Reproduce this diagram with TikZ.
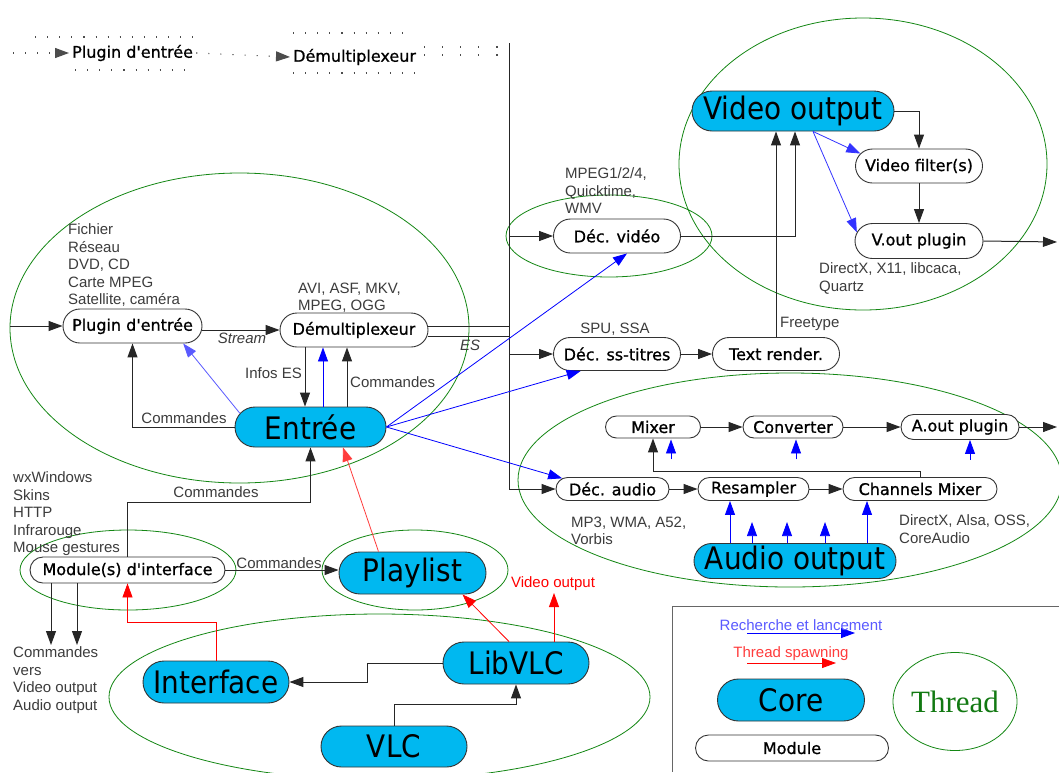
\documentclass[tikz,border=0pt]{standalone}
\usepackage{fontspec}
\setmainfont{Liberation Sans}
\newfontfamily\modfont{DejaVu Sans}[FakeBold=0.9]
\newfontfamily\corefont{DejaVu Sans Condensed}
\newfontfamily\thrfont{Liberation Serif}
\usetikzlibrary{shapes.misc,shapes.geometric,arrows.meta}
\definecolor{coreblue}{RGB}{0,184,240}
\definecolor{thrgreen}{RGB}{20,135,20}
\definecolor{anngray}{RGB}{60,60,60}
\definecolor{srchblue}{RGB}{0,0,255}
\definecolor{lblue}{RGB}{90,90,255}
\definecolor{spred}{RGB}{255,0,0}
\definecolor{lred}{RGB}{255,60,60}
\tikzset{
  mod/.style={draw=black!80, line width=0.9pt, rounded rectangle, inner sep=0pt, fill=white,
    font=\modfont\fontsize{16}{16}\selectfont, text=black},
  corebox/.style={draw=black!80, line width=0.9pt, rounded rectangle, inner sep=0pt, fill=coreblue,
    font=\corefont\fontsize{31}{31}\selectfont, text=black},
  ann/.style={font=\fontsize{15}{17.5}\selectfont, text=anngray, align=left, inner sep=0pt},
  annit/.style={font=\fontsize{15}{17.5}\selectfont\itshape, text=anngray, inner sep=0pt},
  thr/.style={draw=thrgreen, line width=0.8pt},
  tip/.style={-{Triangle[length=14pt,width=10pt]}},
  arr/.style={tip, line width=1pt, draw=black!85},
  link/.style={line width=1pt, draw=black!85},
  barr/.style={tip, line width=0.8pt, draw=srchblue},
  rarr/.style={tip, line width=0.8pt, draw=spred},
  dotl/.style={draw=black!70, line width=1.1pt, dash pattern=on 1.1pt off 11pt},
}
\begin{document}
\begin{tikzpicture}[x=1pt,y=-1pt]
\fill[white] (0,0) rectangle (1059,772);
\useasboundingbox (0,0) rectangle (1059,772);

% thread ellipses
\draw[thr] (239.5,328) ellipse [x radius=229.5, y radius=155];
\draw[thr] (863,164) ellipse [x radius=184, y radius=146];
\draw[thr] (609,236) ellipse [x radius=103, y radius=41];
\draw[thr] (790,480) ellipse [x radius=272, y radius=107];
\draw[thr] (128,570) ellipse [x radius=108, y radius=40];
\draw[thr] (415,570) ellipse [x radius=93, y radius=40];
\draw[thr] (379.5,697) ellipse [x radius=270.5, y radius=83];

% top dotted sketch
\node[font=\modfont\fontsize{16}{16}\selectfont, anchor=west, inner sep=0pt] (tplug) at (72,53) {Plugin d'entrée};
\node[font=\modfont\fontsize{16}{16}\selectfont, anchor=west, inner sep=0pt] (tdemux) at (293,57) {Démultiplexeur};
\coordinate (tin) at (13,53);
\draw[dotl, tip] (tin) -- ([xshift=-3pt]tplug.west);
\draw[dotl, tip] ([xshift=3pt]tplug.east) -- ([xshift=-3pt]tdemux.west);
\draw[dotl] (35,37) -- (193,37);
\draw[dotl] (75,70) -- (190,70);
\draw[dotl] (293,33) -- (413,33);
\draw[dotl] (293,73) -- (415,73);
\draw[dotl, dash pattern=on 1.1pt off 17pt] (424,47) -- (500,47);
\draw[dotl, dash pattern=on 1.1pt off 17pt] (424,55) -- (500,55);

% modules and cores
\node[mod, minimum width=139pt, minimum height=34pt] (plug) at (132.5,326) {Plugin d'entrée};
\node[mod, minimum width=148pt, minimum height=34pt] (demux) at (354,330) {Démultiplexeur};
\node[corebox, minimum width=151pt, minimum height=40pt] (entree) at (310.5,427) {Entrée};

\node[corebox, minimum width=202pt, minimum height=40pt] (vout) at (793,111) {Video output};
\node[mod, minimum width=127pt, minimum height=34pt] (vfilt) at (919,166) {Video filter(s)};
\node[mod, minimum width=128pt, minimum height=35pt] (voplug) at (919,241) {V.out plugin};
\node[mod, minimum width=127pt, minimum height=34pt] (decv) at (617,236) {Déc. vidéo};
\node[mod, minimum width=127pt, minimum height=33pt] (decst) at (617,354) {Déc. ss-titres};
\node[mod, minimum width=127pt, minimum height=33pt] (textr) at (776,354) {Text render.};

\node[mod, minimum width=95pt, minimum height=22pt] (mixer) at (653,427) {Mixer};
\node[mod, minimum width=100pt, minimum height=22pt] (conv) at (793,427) {Converter};
\node[mod, minimum width=118pt, minimum height=25pt] (aout) at (960,427) {A.out plugin};
\node[mod, minimum width=113pt, minimum height=23pt] (deca) at (612.5,489) {Déc. audio};
\node[mod, minimum width=111pt, minimum height=23pt] (resamp) at (753.5,489) {Resampler};
\node[mod, minimum width=154pt, minimum height=23pt] (chmix) at (920,489) {Channels Mixer};
\node[corebox, minimum width=202pt, minimum height=35pt] (audio) at (795,561) {Audio output};

\node[mod, minimum width=195pt, minimum height=26pt] (modif) at (127.5,570) {Module(s) d'interface};
\node[corebox, minimum width=147pt, minimum height=42pt] (playlist) at (412.5,573) {Playlist};
\node[corebox, minimum width=146pt, minimum height=42pt] (libvlc) at (516,663) {LibVLC};
\node[corebox, minimum width=146pt, minimum height=42pt] (interface) at (216,682) {Interface};
\node[corebox, minimum width=146pt, minimum height=41pt] (vlc) at (394,746.5) {VLC};

% input side connectors
\coordinate (inL) at (10,326);
\draw[arr] (inL) -- (plug.west);
\draw[arr] (plug.east |- demux.west) -- (demux.west);
\coordinate (esA) at (509,326);
\coordinate (esB) at (509,336);
\draw[link] (demux.east |- esA) -- (esA);
\draw[link] (demux.east |- esB) -- (esB);
\coordinate (vtop) at (509,43);
\coordinate (vbot) at (509,489);
\draw[link] (vtop) -- (vbot);
\draw[arr] (vbot) -- (deca.west);
\draw[arr] (vbot |- decv.west) -- (decv.west);
\draw[arr] (vbot |- decst.west) -- (decst.west);

\draw[arr] (entree.west) -| (plug.south);
\draw[barr, draw=lblue] (entree.169) -- (plug.-19);
\draw[arr] ([xshift=-49pt]demux.south) -- ([xshift=-5.5pt]entree.north);
\draw[barr] ([xshift=12.5pt]entree.north) -- ([xshift=-31pt]demux.south);
\draw[arr] ([xshift=36.5pt]entree.north) -- ([xshift=-7pt]demux.south);

\draw[barr] (entree.east) -- ([xshift=10pt]decv.south);
\draw[barr] (entree.east) -- (decst.205);
\draw[barr] (entree.east) -- (deca.168);

% video
\draw[arr] (vout.east) -| (vfilt.north);
\draw[arr] (vfilt.south) -- (voplug.north);
\coordinate (voutR) at (1057,242);
\draw[arr] (voplug.east) -- (voutR);
\draw[barr, draw=srchblue!80] ([xshift=20pt]vout.south) -- (vfilt.168);
\draw[barr, draw=srchblue!80] ([xshift=20pt]vout.south) -- (voplug.172);
\draw[arr] (decv.east) -| ([xshift=2pt]vout.south);
\draw[arr] (textr.north) -- (textr.north |- vout.south);
\draw[arr] (decst.east) -- (textr.west);

% audio
\draw[arr] (mixer.east) -- (conv.west);
\draw[arr] (conv.east) -- (aout.west);
\coordinate (aoutR) at (1057,427);
\draw[arr] (aout.east) -- (aoutR);
\draw[arr] (deca.east) -- (resamp.west);
\draw[arr] (resamp.east) -- (chmix.west);
\coordinate (mixc) at (653,471);
\draw[arr] (chmix.north) -- (chmix.north |- mixc) -- (mixc) -- (mixer.south);
\draw[barr] ([xshift=18pt,yshift=-21pt]mixer.south) -- ([xshift=18pt,yshift=-1pt]mixer.south);
\draw[barr] ([xshift=3pt,yshift=-21pt]conv.south) -- ([xshift=3pt,yshift=-1pt]conv.south);
\draw[barr] ([xshift=10pt,yshift=-20pt]aout.south) -- ([xshift=10pt,yshift=0pt]aout.south);
\draw[barr] ([xshift=-65pt]audio.north) -- ([xshift=-23.5pt]resamp.south);
\draw[barr] ([xshift=-43pt]audio.north) -- ([xshift=-43pt,yshift=21pt]audio.north);
\draw[barr] ([xshift=-8pt]audio.north) -- ([xshift=-8pt,yshift=21pt]audio.north);
\draw[barr] ([xshift=30pt]audio.north) -- ([xshift=30pt,yshift=21pt]audio.north);
\draw[barr] ([xshift=72pt]audio.north) -- ([xshift=-53pt]chmix.south);

% interface side
\coordinate (cmdc) at (127.5,502);
\draw[arr] (modif.north) -- (cmdc) -| (entree.south);
\draw[arr] (modif.east) -- (modif.east -| playlist.west);
\coordinate (d1) at (51,645);
\coordinate (d2) at (77,645);
\draw[arr] (modif.south -| d1) -- (d1);
\draw[arr] (modif.south -| d2) -- (d2);
\coordinate (rc) at (216,622);
\draw[rarr] (interface.north) -- (rc) -| (modif.south);
\draw[rarr, draw=lred] ([xshift=-34pt]playlist.north) -- ([xshift=32.5pt]entree.south);
\draw[rarr] ([xshift=-7pt]libvlc.north) -- ([xshift=50pt]playlist.south);
\coordinate (vo) at (554,593);
\draw[rarr] (libvlc.north -| vo) -- (vo);
\coordinate (lc) at (367,663);
\draw[arr] (libvlc.west) -- (lc) |- (interface.east);
\coordinate (vc) at (516,704);
\draw[arr] (vlc.north) -- (vlc.north |- vc) -- (vc) -- (libvlc.south);

% annotations
\node[ann, anchor=north west] (a1) at (68,223.5) {Fichier\\Réseau\\DVD, CD\\Carte MPEG\\Satellite, caméra};
\node[ann, anchor=north west] (a2) at (298,282.5) {AVI, ASF, MKV,\\MPEG, OGG};
\node[ann, anchor=north west] (a3) at (565,167.5) {MPEG1/2/4,\\Quicktime,\\WMV};
\node[ann, anchor=north west] (a4) at (819,262.5) {DirectX, X11, libcaca,\\Quartz};
\node[ann] (a5) at (615,329) {SPU, SSA};
\node[ann, anchor=west] (a6) at (780,324) {Freetype};
\node[ann, anchor=north west] (a7) at (571,516.5) {MP3, WMA, A52,\\Vorbis};
\node[ann, anchor=north west] (a8) at (899,514.5) {DirectX, Alsa, OSS,\\CoreAudio};
\node[ann, anchor=north west] (a9) at (13,471.5) {wxWindows\\Skins\\HTTP\\Infrarouge\\Mouse gestures};
\node[ann, anchor=north west] (a10) at (13,646.5) {Commandes\\vers\\Video output\\Audio output};
\node[annit] (lstream) at (242,338) {Stream};
\node[annit] (les) at (470,345) {ES};
\node[ann] (lc1) at (184,418) {Commandes};
\node[ann, anchor=east] (linfo) at (302,373) {Infos ES};
\node[ann, anchor=west] (lc2) at (350,382) {Commandes};
\node[ann] (lc3) at (216,492) {Commandes};
\node[ann] (lc4) at (279,563) {Commandes};
\node[ann, text=spred] (lvo) at (553,584) {Video output};

% legend
\draw[draw=black!60, line width=1pt] (1059,606) -- (672,606) -- (672,772);
\coordinate (l1a) at (747,633);
\coordinate (l1b) at (855,633);
\draw[barr] (l1a) -- (l1b);
\coordinate (l2a) at (747,663);
\coordinate (l2b) at (836,663);
\draw[rarr] (l2a) -- (l2b);
\node[ann, text=lblue] (lg1) at (801,625) {Recherche et lancement};
\node[ann, text=lred] (lg2) at (791,654) {Thread spawning};
\node[corebox, minimum width=147pt, minimum height=42pt] (lcore) at (791,700) {Core};
\node[mod, minimum width=193pt, minimum height=26pt] (lmod) at (792,748) {Module};
\node[ellipse, draw=thrgreen, line width=0.8pt, minimum width=108pt, minimum height=98pt, inner sep=0pt,
  font=\thrfont\fontsize{31}{31}\selectfont, text=thrgreen!90!black] (lthr) at (955,701.5) {Thread};
\end{tikzpicture}
\end{document}
